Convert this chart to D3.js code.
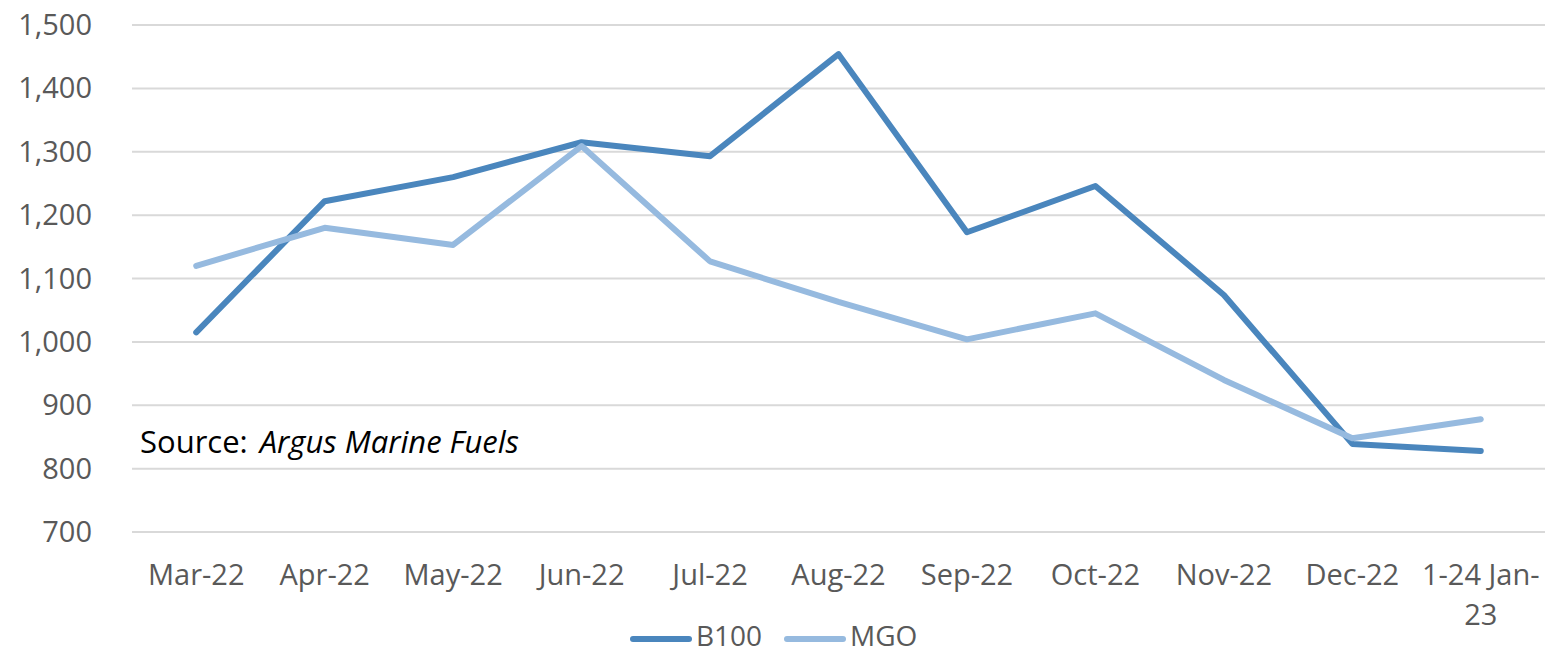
<!DOCTYPE html>
<html>
<head>
<meta charset="utf-8">
<script src="https://cdn.jsdelivr.net/npm/d3@7"></script>
<style>
  html, body { margin: 0; padding: 0; background: #fff; }
  svg text { font-family: "Open Sans", "Noto Sans", sans-serif; }
</style>
</head>
<body>
<div id="chart"></div>
<script>
// Chart data
const months = ['Mar-22', 'Apr-22', 'May-22', 'Jun-22', 'Jul-22', 'Aug-22',
  'Sep-22', 'Oct-22', 'Nov-22', 'Dec-22', '1-24 Jan-23'];
const b100 = [1015, 1222, 1260, 1315, 1293, 1454, 1173, 1246, 1074, 839, 828];
const mgo = [1120, 1180, 1153, 1309, 1127, 1063, 1004, 1045, 940, 848, 878];
const yTicks = [700, 800, 900, 1000, 1100, 1200, 1300, 1400, 1500];

const series = [
  { name: 'B100', values: b100, color: '#4a86bd' },
  { name: 'MGO', values: mgo, color: '#96badf' }
];

const width = 1545;
const height = 654;
const margin = { top: 25, right: 0, bottom: 122, left: 132 };

const svg = d3.select('#chart')
  .append('svg')
  .attr('width', width)
  .attr('height', height);

const x = d3.scaleBand()
  .domain(months)
  .range([margin.left, width - margin.right]);

const y = d3.scaleLinear()
  .domain([700, 1500])
  .range([height - margin.bottom, margin.top]);

// gridlines
svg.append('g')
  .selectAll('line')
  .data(yTicks)
  .join('line')
  .attr('x1', margin.left)
  .attr('x2', width - margin.right)
  .attr('y1', d => y(d))
  .attr('y2', d => y(d))
  .attr('stroke', '#d9d9d9')
  .attr('stroke-width', 2);

// y axis labels
const yAxis = svg.append('g')
  .attr('transform', `translate(${margin.left - 40},0)`)
  .call(d3.axisLeft(y).tickValues(yTicks).tickSize(0).tickFormat(d3.format(',')));
yAxis.select('.domain').remove();
yAxis.selectAll('text')
  .attr('x', 0)
  .attr('dy', '0.33em')
  .attr('fill', '#595959')
  .style('font-size', '29px');

// x axis labels (last one wraps onto two lines)
const xAxis = svg.append('g')
  .attr('transform', `translate(0,${height - margin.bottom})`)
  .call(d3.axisBottom(x).tickSize(0).tickFormat(''));
xAxis.select('.domain').remove();
xAxis.selectAll('.tick').each(function(d) {
  const t = d3.select(this).append('text')
    .attr('fill', '#595959')
    .attr('text-anchor', 'middle')
    .style('font-size', '29px');
  const lines = d === '1-24 Jan-23' ? ['1-24 Jan-', '23'] : [d];
  lines.forEach((s, i) => {
    t.append('tspan')
      .attr('x', 0)
      .attr('y', 53 + i * 40)
      .text(s);
  });
});

// lines
const line = d3.line()
  .x((d, i) => x(months[i]) + x.bandwidth() / 2)
  .y(d => y(d));

svg.append('g')
  .selectAll('path')
  .data(series)
  .join('path')
  .attr('d', d => line(d.values))
  .attr('fill', 'none')
  .attr('stroke', d => d.color)
  .attr('stroke-width', 6)
  .attr('stroke-linejoin', 'round')
  .attr('stroke-linecap', 'round');

// source note
const src = svg.append('text')
  .attr('x', 140)
  .attr('y', 453)
  .attr('fill', '#000')
  .style('font-size', '31px');
src.append('tspan').text('Source:');
src.append('tspan').attr('dx', 12).style('font-style', 'italic').text('Argus Marine Fuels');

// legend
const legendPos = [633, 787];
const legend = svg.append('g')
  .selectAll('g')
  .data(series)
  .join('g')
  .attr('transform', (d, i) => `translate(${legendPos[i]},639)`);

legend.append('line')
  .attr('x1', 0)
  .attr('x2', 56)
  .attr('stroke', d => d.color)
  .attr('stroke-width', 6)
  .attr('stroke-linecap', 'round');

legend.append('text')
  .attr('x', 63)
  .attr('y', 7)
  .attr('fill', '#595959')
  .style('font-size', '28px')
  .text(d => d.name);
</script>
</body>
</html>
